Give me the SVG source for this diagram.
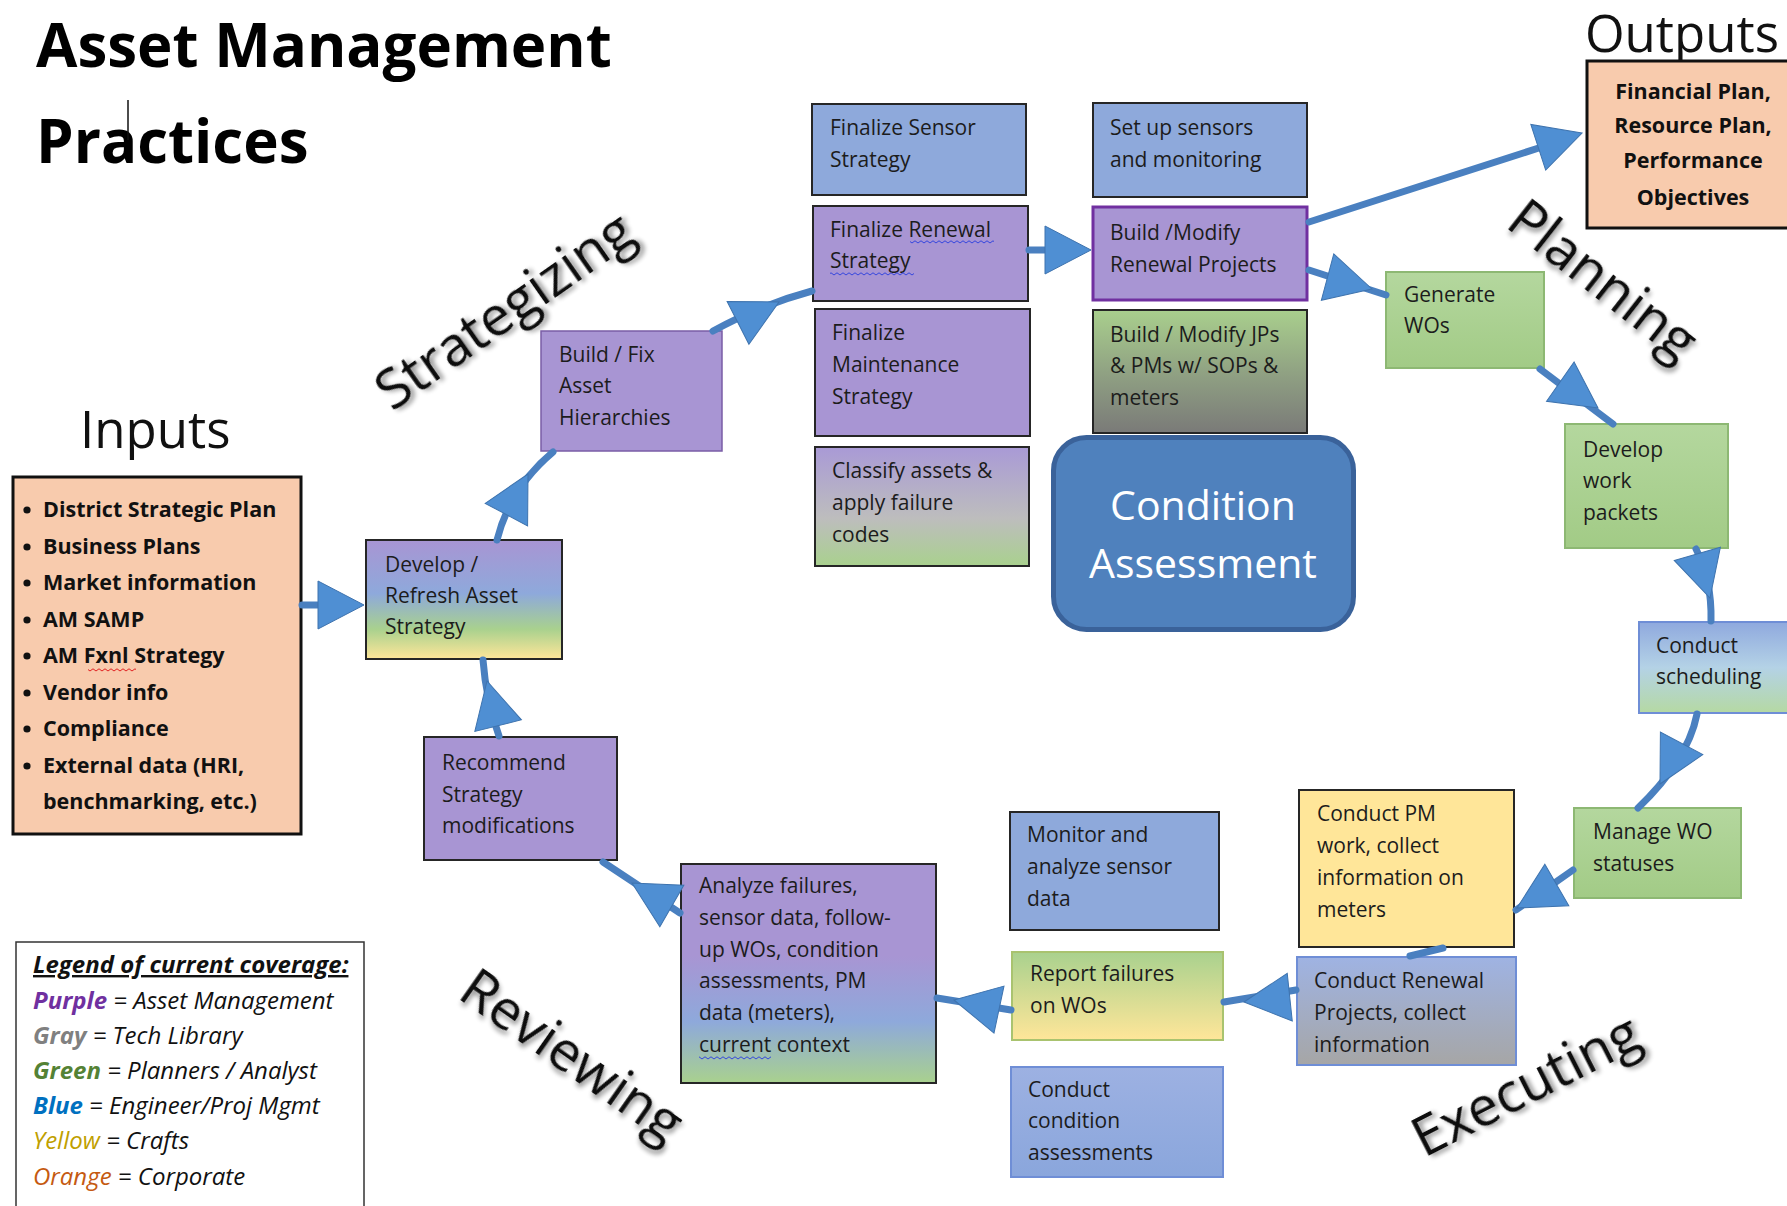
<svg xmlns="http://www.w3.org/2000/svg" xmlns:xlink="http://www.w3.org/1999/xlink" width="1787" height="1206" viewBox="0 0 1787 1206">
<style>
  text { font-family: "Open Sans", "Noto Sans", "DejaVu Sans", sans-serif; }
  .t { font-size: 21px; fill: #1c1c1c; }
  .b { stroke: #262626; stroke-width: 2; }
  .bl { stroke: #6F8ED6; stroke-width: 2; }
  .bg { stroke: #8DB873; stroke-width: 2; }
  .purple { fill: #A895D3; }
  .blue { fill: #8EA9DB; }
  .green { fill: url(#gGreen); }
  .peach { fill: #F8CBAD; stroke: #111; stroke-width: 3; }
  .inp { font-size: 21.5px; font-weight: bold; fill: #111; }
  .big { font-size: 55px; fill: #111; filter: url(#sh); }
  .hdr { font-size: 51px; fill: #111; }
  .ttl { font-size: 60px; font-weight: bold; fill: #000; }
  .leg { font-size: 24px; font-style: italic; fill: #111; }
  .conn { fill: none; stroke: #4A80C0; stroke-width: 7; stroke-linecap: round; }
  .ah { fill: #4F8FD3; stroke: #3E73AE; stroke-width: 1; }
</style>
<defs>
  <linearGradient id="gGreen" x1="0" y1="0" x2="0" y2="1">
    <stop offset="0" stop-color="#B4D79E"/><stop offset="1" stop-color="#A2CB86"/>
  </linearGradient>
  <linearGradient id="gDevRefresh" x1="0" y1="0" x2="0" y2="1">
    <stop offset="0" stop-color="#A895D3"/><stop offset="0.45" stop-color="#8EA9DB"/>
    <stop offset="0.75" stop-color="#A9D18E"/><stop offset="1" stop-color="#FFE699"/>
  </linearGradient>
  <linearGradient id="gClassify" x1="0" y1="0" x2="0" y2="1">
    <stop offset="0" stop-color="#A99AD6"/><stop offset="0.6" stop-color="#BDBDBD"/>
    <stop offset="1" stop-color="#A9D18E"/>
  </linearGradient>
  <linearGradient id="gJps" x1="0" y1="0" x2="0" y2="1">
    <stop offset="0" stop-color="#A9CF8D"/><stop offset="0.55" stop-color="#8E9E82"/>
    <stop offset="1" stop-color="#7A7A78"/>
  </linearGradient>
  <linearGradient id="gSched" x1="0" y1="0" x2="0" y2="1">
    <stop offset="0" stop-color="#8FA9DE"/><stop offset="0.5" stop-color="#B4D2E6"/>
    <stop offset="1" stop-color="#B5D9A3"/>
  </linearGradient>
  <linearGradient id="gRenewal" x1="0" y1="0" x2="0" y2="1">
    <stop offset="0" stop-color="#9FB3E3"/><stop offset="1" stop-color="#A6A6A6"/>
  </linearGradient>
  <linearGradient id="gCondAss" x1="0" y1="0" x2="0" y2="1">
    <stop offset="0" stop-color="#9DB1E2"/><stop offset="1" stop-color="#8AA6DC"/>
  </linearGradient>
  <linearGradient id="gReport" x1="0" y1="0" x2="0" y2="1">
    <stop offset="0" stop-color="#A9D18E"/><stop offset="1" stop-color="#FFE699"/>
  </linearGradient>
  <linearGradient id="gAnalyze" x1="0" y1="0" x2="0" y2="1">
    <stop offset="0" stop-color="#A895D3"/><stop offset="0.42" stop-color="#A895D3"/>
    <stop offset="0.72" stop-color="#8EA9DB"/><stop offset="1" stop-color="#A9D18E"/>
  </linearGradient>
  <filter id="sh" x="-10%" y="-10%" width="130%" height="130%">
    <feGaussianBlur in="SourceAlpha" stdDeviation="2.5"/>
    <feOffset dx="3" dy="3" result="o"/>
    <feComponentTransfer><feFuncA type="linear" slope="0.45"/></feComponentTransfer>
    <feMerge><feMergeNode/><feMergeNode in="SourceGraphic"/></feMerge>
  </filter>
  <pattern id="wavyBlue" width="6" height="4" patternUnits="userSpaceOnUse">
    <path d="M0,3 L3,0.8 L6,3" fill="none" stroke="#3344DD" stroke-width="1"/>
  </pattern>
  <pattern id="wavyRed" width="6" height="4" patternUnits="userSpaceOnUse">
    <path d="M0,3 L3,0.8 L6,3" fill="none" stroke="#E02020" stroke-width="1"/>
  </pattern>
  <path id="ah" d="M0,0 L-46,-24 L-46,24 Z"/>
</defs>

<rect width="1787" height="1206" fill="#ffffff"/>

<g id="title">
  <text class="ttl" x="36" y="67">Asset Management</text>
  <text class="ttl" x="36" y="163">Practices</text>
  <line x1="128" y1="100" x2="128" y2="140" stroke="#111" stroke-width="1.5"/>
</g>

<g id="phase-labels">
  <text class="big" transform="translate(392,412) rotate(-35)">Strategizing</text>
  <text class="big" font-size="58" transform="translate(1504,226) rotate(38)">Planning</text>
  <text class="big" font-size="54" transform="translate(456,997) rotate(35)">Reviewing</text>
  <text class="big" font-size="60" transform="translate(1424,1158) rotate(-27)">Executing</text>
</g>

<g id="inputs">
  <text class="hdr" x="80" y="448">Inputs</text>
  <rect class="peach" x="13" y="477" width="288" height="357"/>
  <g fill="#111">
    <circle cx="27" cy="510" r="3.6"/><circle cx="27" cy="547" r="3.6"/><circle cx="27" cy="583" r="3.6"/>
    <circle cx="27" cy="620" r="3.6"/><circle cx="27" cy="656" r="3.6"/><circle cx="27" cy="693" r="3.6"/>
    <circle cx="27" cy="729" r="3.6"/><circle cx="27" cy="766" r="3.6"/>
  </g>
  <text class="inp" x="43" y="517">District Strategic Plan</text>
  <text class="inp" x="43" y="554">Business Plans</text>
  <text class="inp" x="43" y="590">Market information</text>
  <text class="inp" x="43" y="627">AM SAMP</text>
  <text class="inp" x="43" y="663">AM Fxnl Strategy</text>
  <text class="inp" x="43" y="700">Vendor info</text>
  <text class="inp" x="43" y="736">Compliance</text>
  <text class="inp" x="43" y="773">External data (HRI,</text>
  <text class="inp" x="43" y="809">benchmarking, etc.)</text>
  <rect x="88" y="668" width="48" height="4" fill="url(#wavyRed)"/>
</g>

<g id="outputs">
  <text class="hdr" font-size="46" x="1779" y="52" text-anchor="end">Outputs</text>
  <rect class="peach" x="1587" y="61" width="205" height="167"/>
  <g text-anchor="middle">
    <text class="inp" x="1693" y="99">Financial Plan,</text>
    <text class="inp" x="1693" y="133">Resource Plan,</text>
    <text class="inp" x="1693" y="168">Performance</text>
    <text class="inp" x="1693" y="205">Objectives</text>
  </g>
</g>

<g id="n-build-fix">
  <rect class="purple" x="541" y="331" width="181" height="120" stroke="#7A5DA6" stroke-width="1.5"/>
  <text class="t" x="559" y="362">Build / Fix</text>
  <text class="t" x="559" y="393">Asset</text>
  <text class="t" x="559" y="425">Hierarchies</text>
</g>
<g id="n-finalize-sensor">
  <rect class="blue b" x="812" y="104" width="214" height="91"/>
  <text class="t" x="830" y="135">Finalize Sensor</text>
  <text class="t" x="830" y="167">Strategy</text>
</g>
<g id="n-finalize-renewal">
  <rect class="purple b" x="813" y="206" width="215" height="95"/>
  <text class="t" x="830" y="237">Finalize Renewal</text>
  <text class="t" x="830" y="268">Strategy</text>
  <rect x="910" y="240" width="84" height="4" fill="url(#wavyBlue)"/>
  <rect x="830" y="272" width="84" height="4" fill="url(#wavyBlue)"/>
</g>
<g id="n-finalize-maint">
  <rect class="purple b" x="815" y="309" width="215" height="127"/>
  <text class="t" x="832" y="340">Finalize</text>
  <text class="t" x="832" y="372">Maintenance</text>
  <text class="t" x="832" y="404">Strategy</text>
</g>
<g id="n-classify">
  <rect class="b" fill="url(#gClassify)" x="815" y="447" width="214" height="119"/>
  <text class="t" x="832" y="478">Classify assets &amp;</text>
  <text class="t" x="832" y="510">apply failure</text>
  <text class="t" x="832" y="542">codes</text>
</g>
<g id="n-setup-sensors">
  <rect class="blue b" x="1093" y="103" width="214" height="94"/>
  <text class="t" x="1110" y="135">Set up sensors</text>
  <text class="t" x="1110" y="167">and monitoring</text>
</g>
<g id="n-build-renewal">
  <rect class="purple" x="1093" y="207" width="214" height="93" stroke="#7030A0" stroke-width="3"/>
  <text class="t" x="1110" y="240">Build /Modify</text>
  <text class="t" x="1110" y="272">Renewal Projects</text>
</g>
<g id="n-build-jps">
  <rect class="b" fill="url(#gJps)" x="1093" y="310" width="214" height="123"/>
  <text class="t" x="1110" y="342">Build / Modify JPs</text>
  <text class="t" x="1110" y="373">&amp; PMs w/ SOPs &amp;</text>
  <text class="t" x="1110" y="405">meters</text>
</g>
<g id="n-condition-assessment">
  <rect x="1053.5" y="437.5" width="300" height="192" rx="33" fill="#4F81BD" stroke="#3A629A" stroke-width="5"/>
  <text x="1203" y="520" font-size="41" fill="#fff" text-anchor="middle">Condition</text>
  <text x="1203" y="578" font-size="41" fill="#fff" text-anchor="middle">Assessment</text>
</g>
<g id="n-generate-wos">
  <rect class="green bg" x="1386" y="272" width="158" height="96"/>
  <text class="t" x="1404" y="302">Generate</text>
  <text class="t" x="1404" y="333">WOs</text>
</g>
<g id="n-develop-packets">
  <rect class="green bg" x="1565" y="424" width="163" height="124"/>
  <text class="t" x="1583" y="457">Develop</text>
  <text class="t" x="1583" y="488">work</text>
  <text class="t" x="1583" y="520">packets</text>
</g>
<g id="n-scheduling">
  <rect class="bl" fill="url(#gSched)" x="1639" y="622" width="160" height="91"/>
  <text class="t" x="1656" y="653">Conduct</text>
  <text class="t" x="1656" y="684">scheduling</text>
</g>
<g id="n-manage-wo">
  <rect class="green bg" x="1574" y="808" width="167" height="90"/>
  <text class="t" x="1593" y="839">Manage WO</text>
  <text class="t" x="1593" y="871">statuses</text>
</g>
<g id="n-conduct-pm">
  <rect class="b" fill="#FFE699" x="1299" y="790" width="215" height="157"/>
  <text class="t" x="1317" y="821">Conduct PM</text>
  <text class="t" x="1317" y="853">work, collect</text>
  <text class="t" x="1317" y="885">information on</text>
  <text class="t" x="1317" y="917">meters</text>
</g>
<g id="n-conduct-renewal">
  <rect class="bl" fill="url(#gRenewal)" x="1297" y="957" width="219" height="108"/>
  <text class="t" x="1314" y="988">Conduct Renewal</text>
  <text class="t" x="1314" y="1020">Projects, collect</text>
  <text class="t" x="1314" y="1052">information</text>
</g>
<g id="n-report-failures">
  <rect fill="url(#gReport)" stroke="#A9C36F" stroke-width="2" x="1012" y="952" width="211" height="88"/>
  <text class="t" x="1030" y="981">Report failures</text>
  <text class="t" x="1030" y="1013">on WOs</text>
</g>
<g id="n-monitor">
  <rect class="blue b" x="1010" y="812" width="209" height="118"/>
  <text class="t" x="1027" y="842">Monitor and</text>
  <text class="t" x="1027" y="874">analyze sensor</text>
  <text class="t" x="1027" y="906">data</text>
</g>
<g id="n-condition-assessments">
  <rect class="bl" fill="url(#gCondAss)" x="1011" y="1067" width="212" height="110"/>
  <text class="t" x="1028" y="1097">Conduct</text>
  <text class="t" x="1028" y="1128">condition</text>
  <text class="t" x="1028" y="1160">assessments</text>
</g>
<g id="n-analyze">
  <rect class="b" fill="url(#gAnalyze)" x="681" y="864" width="255" height="219"/>
  <text class="t" x="699" y="893">Analyze failures,</text>
  <text class="t" x="699" y="925">sensor data, follow-</text>
  <text class="t" x="699" y="957">up WOs, condition</text>
  <text class="t" x="699" y="988">assessments, PM</text>
  <text class="t" x="699" y="1020">data (meters),</text>
  <text class="t" x="699" y="1052">current context</text>
  <rect x="699" y="1056" width="72" height="4" fill="url(#wavyBlue)"/>
</g>
<g id="n-recommend">
  <rect class="purple b" x="424" y="737" width="193" height="123"/>
  <text class="t" x="442" y="770">Recommend</text>
  <text class="t" x="442" y="802">Strategy</text>
  <text class="t" x="442" y="833">modifications</text>
</g>
<g id="n-develop-refresh">
  <rect class="b" fill="url(#gDevRefresh)" x="366" y="540" width="196" height="119"/>
  <text class="t" x="385" y="572">Develop /</text>
  <text class="t" x="385" y="603">Refresh Asset</text>
  <text class="t" x="385" y="634">Strategy</text>
</g>

<g id="connectors">
  <path class="conn" d="M302,605 L330,605"/>
  <use href="#ah" class="ah" transform="translate(364,605)"/>
  <path class="conn" d="M497,540 Q510,488 553,452"/>
  <use href="#ah" class="ah" transform="translate(528,474) rotate(-62)"/>
  <path class="conn" d="M713,331 Q760,305 812,291"/>
  <use href="#ah" class="ah" transform="translate(779,302) rotate(-27)"/>
  <path class="conn" d="M1029,250 L1060,250"/>
  <use href="#ah" class="ah" transform="translate(1091,250)"/>
  <path class="conn" d="M1309,222 L1545,146" stroke-width="9"/>
  <use href="#ah" class="ah" transform="translate(1582,133) rotate(-18)"/>
  <path class="conn" d="M1309,270 L1386,295"/>
  <use href="#ah" class="ah" transform="translate(1372,289) rotate(15)"/>
  <path class="conn" d="M1540,369 L1613,424"/>
  <use href="#ah" class="ah" transform="translate(1598,408) rotate(35)"/>
  <path class="conn" d="M1696,549 Q1712,580 1711,621"/>
  <use href="#ah" class="ah" transform="translate(1710,598) rotate(74)"/>
  <path class="conn" d="M1697,714 Q1688,760 1638,808"/>
  <use href="#ah" class="ah" transform="translate(1660,784) rotate(118)"/>
  <path class="conn" d="M1573,870 L1516,910"/>
  <use href="#ah" class="ah" transform="translate(1517,908) rotate(150)"/>
  <path class="conn" d="M1443,948 L1410,956"/>
  <path class="conn" d="M1296,990 L1224,1002"/>
  <use href="#ah" class="ah" transform="translate(1244,1002) rotate(174)"/>
  <path class="conn" d="M1011,1010 L937,998"/>
  <use href="#ah" class="ah" transform="translate(954,1000) rotate(192)"/>
  <path class="conn" d="M680,913 L603,862"/>
  <use href="#ah" class="ah" transform="translate(632,883) rotate(210)"/>
  <path class="conn" d="M499,736 Q486,700 483,660"/>
  <use href="#ah" class="ah" transform="translate(487,681) rotate(-104)"/>
</g>

<g id="legend">
  <rect x="16" y="942" width="348" height="280" fill="#fff" stroke="#333" stroke-width="1.5"/>
  <text class="leg" font-size="23" x="33" y="973" font-weight="bold" text-decoration="underline">Legend of current coverage:</text>
  <text class="leg" x="33" y="1009"><tspan font-weight="bold" fill="#7030A0">Purple</tspan> = Asset Management</text>
  <text class="leg" x="33" y="1044"><tspan font-weight="bold" fill="#808080">Gray</tspan> = Tech Library</text>
  <text class="leg" x="33" y="1079"><tspan font-weight="bold" fill="#548235">Green</tspan> = Planners / Analyst</text>
  <text class="leg" x="33" y="1114"><tspan font-weight="bold" fill="#0070C0">Blue</tspan> = Engineer/Proj Mgmt</text>
  <text class="leg" x="33" y="1149"><tspan fill="#BF9F00">Yellow</tspan> = Crafts</text>
  <text class="leg" x="33" y="1185"><tspan fill="#C55A11">Orange</tspan> = Corporate</text>
</g>
</svg>
